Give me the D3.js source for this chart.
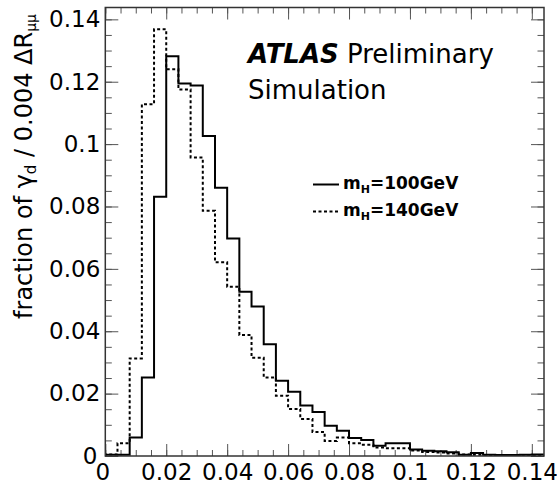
<!DOCTYPE html>
<html>
<head>
<meta charset="utf-8">
<script src="https://cdn.jsdelivr.net/npm/d3@7/dist/d3.min.js"></script>
<style>
  html, body { margin: 0; padding: 0; background: #fff; }
  svg { display: block; font-family: "DejaVu Sans", sans-serif; }
</style>
</head>
<body>
<svg id="chart" width="557" height="488"></svg>
<script>
// ΔR_μμ binning: 36 bins of width 0.004 from 0 to 0.144
const binWidth = 0.004;
const binEdges = d3.range(0, 37).map(i => +(i * binWidth).toFixed(3));

// fraction of γ_d per bin, m_H = 100 GeV
const frac100 = [
  0.0004, 0.0004, 0.0059, 0.0252, 0.0831, 0.1282, 0.1194, 0.1188, 0.1026, 0.0860,
  0.0697, 0.0527, 0.0479, 0.0358, 0.0241, 0.0206, 0.0162, 0.0141, 0.0097, 0.0081,
  0.0058, 0.0051, 0.0033, 0.0041, 0.0041, 0.0021, 0.0017, 0.0015, 0.0012, 0.0004,
  0.0010, 0.0004, 0.0003, 0.0003, 0.0004, 0.0005
];

// fraction of γ_d per bin, m_H = 140 GeV
const frac140 = [
  0.0005, 0.0041, 0.0313, 0.1128, 0.1368, 0.1240, 0.1175, 0.0957, 0.0786, 0.0621,
  0.0543, 0.0388, 0.0315, 0.0252, 0.0193, 0.0151, 0.0119, 0.0077, 0.0048, 0.0059,
  0.0041, 0.0036, 0.0027, 0.0025, 0.0025, 0.0018, 0.0013, 0.0011, 0.0008, 0.0005,
  0.0004, 0.0003, 0.0002, 0.0002, 0.0002, 0.0002
];

const seriesNames = ["m_H=100GeV", "m_H=140GeV"];

const xTicks = [0, 0.02, 0.04, 0.06, 0.08, 0.1, 0.12, 0.14];
const xTickLabels = ["0", "0.02", "0.04", "0.06", "0.08", "0.1", "0.12", "0.14"];
const yTicks = [0, 0.02, 0.04, 0.06, 0.08, 0.1, 0.12, 0.14];
const yTickLabels = ["0", "0.02", "0.04", "0.06", "0.08", "0.1", "0.12", "0.14"];
const minorTicks = d3.range(0, 29).map(i => +(i * 0.005).toFixed(3));

const xMax = 0.144;
const yMax = 0.1438;

const W = 557, H = 488;
const margin = { top: 7.5, right: 13, bottom: 32, left: 105.3 };
const iw = W - margin.left - margin.right;
const ih = H - margin.top - margin.bottom;

const svg = d3.select("#chart");
const g = svg.append("g").attr("transform", `translate(${margin.left},${margin.top})`);

const x = d3.scaleLinear().domain([0, xMax]).range([0, iw]);
const y = d3.scaleLinear().domain([0, yMax]).range([ih, 0]);

// ---- ticks (inward, on all four sides) ----
const tickColor = "#555";
const labelSize = 23;

function styleAxis(sel) {
  sel.select(".domain").remove();
  sel.selectAll(".tick line").attr("stroke", tickColor).attr("stroke-width", 1);
  sel.selectAll("text").attr("font-size", labelSize).attr("fill", "#000")
     .attr("font-family", "DejaVu Sans, sans-serif");
}

// bottom
g.append("g").attr("transform", `translate(0,${ih})`)
  .call(d3.axisBottom(x).tickValues(minorTicks).tickSizeInner(-6).tickSizeOuter(0).tickFormat(""))
  .call(styleAxis);
g.append("g").attr("transform", `translate(0,${ih})`)
  .call(d3.axisBottom(x).tickValues(xTicks).tickSizeInner(-12).tickSizeOuter(0).tickPadding(8)
        .tickFormat((d, i) => xTickLabels[i]))
  .call(styleAxis)
  .call(a => a.selectAll(".tick").filter(d => d === 0).select("text").attr("dx", -3));
// top
g.append("g")
  .call(d3.axisTop(x).tickValues(minorTicks).tickSizeInner(-6).tickSizeOuter(0).tickFormat(""))
  .call(styleAxis);
g.append("g")
  .call(d3.axisTop(x).tickValues(xTicks).tickSizeInner(-12).tickSizeOuter(0).tickFormat(""))
  .call(styleAxis);
// left
g.append("g")
  .call(d3.axisLeft(y).tickValues(minorTicks).tickSizeInner(-6.5).tickSizeOuter(0).tickFormat(""))
  .call(styleAxis);
g.append("g")
  .call(d3.axisLeft(y).tickValues(yTicks).tickSizeInner(-13).tickSizeOuter(0).tickPadding(5)
        .tickFormat((d, i) => yTickLabels[i]))
  .call(styleAxis)
  .call(a => a.selectAll(".tick").filter(d => d === 0).select("text").attr("dx", -3));
// right
g.append("g").attr("transform", `translate(${iw},0)`)
  .call(d3.axisRight(y).tickValues(minorTicks).tickSizeInner(-6.5).tickSizeOuter(0).tickFormat(""))
  .call(styleAxis);
g.append("g").attr("transform", `translate(${iw},0)`)
  .call(d3.axisRight(y).tickValues(yTicks).tickSizeInner(-13).tickSizeOuter(0).tickFormat(""))
  .call(styleAxis);

// ---- histograms as step outlines ----
function stepPoints(vals) {
  const pts = [[binEdges[0], 0]];
  vals.forEach((v, i) => {
    pts.push([binEdges[i], v]);
    pts.push([binEdges[i + 1], v]);
  });
  pts.push([binEdges[vals.length], 0]);
  return pts;
}
const line = d3.line().x(d => x(d[0])).y(d => y(d[1]));

svg.append("clipPath").attr("id", "plotClip")
  .append("rect").attr("width", iw).attr("height", ih);

const hist = g.append("g").attr("clip-path", "url(#plotClip)");
hist.append("path").datum(stepPoints(frac140))
  .attr("d", line).attr("fill", "none").attr("stroke", "#000")
  .attr("stroke-width", 2).attr("stroke-dasharray", "3,2.5");
hist.append("path").datum(stepPoints(frac100))
  .attr("d", line).attr("fill", "none").attr("stroke", "#000")
  .attr("stroke-width", 2);

// ---- frame ----
g.append("rect").attr("width", iw).attr("height", ih)
  .attr("fill", "none").attr("stroke", "#333").attr("stroke-width", 1.5);

// ---- y-axis title ----
const yTitle = svg.append("text")
  .attr("transform", "translate(32,14) rotate(-90)")
  .attr("text-anchor", "end")
  .attr("font-size", 24)
  .attr("fill", "#000");
yTitle.append("tspan").text("fraction of γ");
yTitle.append("tspan").attr("dy", "0.28em").attr("font-size", 15).text("d");
yTitle.append("tspan").attr("dy", "-0.18em").text(" / 0.004 ΔR");
yTitle.append("tspan").attr("dy", "0.28em").attr("font-size", 14).text("μμ");

// ---- ATLAS label ----
const atlas = svg.append("text").attr("x", 248).attr("y", 63).attr("font-size", 26).attr("fill", "#000");
atlas.append("tspan").attr("font-weight", "bold").attr("font-style", "italic").text("ATLAS");
atlas.append("tspan").attr("x", 347).text("Preliminary");
svg.append("text").attr("x", 248).attr("y", 99).attr("font-size", 26).attr("fill", "#000").text("Simulation");

// ---- legend ----
const legendRows = [
  { name: seriesNames[0], dash: null, y: 189 },
  { name: seriesNames[1], dash: "3,2.5", y: 216 }
];
const leg = svg.append("g");
legendRows.forEach(r => {
  leg.append("line")
    .attr("x1", 313).attr("x2", 339).attr("y1", r.y - 4.5).attr("y2", r.y - 4.5)
    .attr("stroke", "#000").attr("stroke-width", 2)
    .attr("stroke-dasharray", r.dash);
  const [base, sub] = r.name.split("_");
  const sub1 = sub.slice(0, 1), rest = sub.slice(1);
  const t = leg.append("text").attr("x", 343).attr("y", r.y)
    .attr("font-size", 17).attr("font-weight", "bold").attr("fill", "#000");
  t.append("tspan").text(base);
  t.append("tspan").attr("dy", 4).attr("font-size", 11).text(sub1);
  t.append("tspan").attr("dy", -4).text(rest);
});
</script>
</body>
</html>
